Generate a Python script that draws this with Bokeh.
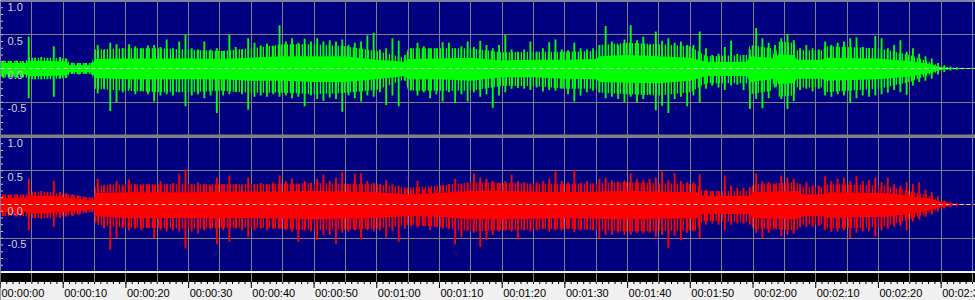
import numpy as np
from bokeh.plotting import figure
from bokeh.models import Range1d
from bokeh.core.properties import value
from bokeh.embed import file_html
from bokeh.resources import INLINE

# ---------------- data ----------------
# per-second peak amplitudes (bin i covers second i .. i+1)
green_hi = [
    0.12, 0.11, 0.12, 0.11, 0.47, 0.16, 0.17, 0.15, 0.33, 0.17,
    0.15, 0.09, 0.08, 0.08, 0.09, 0.35, 0.27, 0.38, 0.36, 0.30,
    0.36, 0.33, 0.30, 0.34, 0.35, 0.32, 0.43, 0.30, 0.40, 0.50,
    0.30, 0.28, 0.40, 0.28, 0.30, 0.26, 0.50, 0.32, 0.28, 0.45,
    0.38, 0.34, 0.37, 0.33, 0.64, 0.40, 0.45, 0.38, 0.44, 0.40,
    0.45, 0.40, 0.42, 0.40, 0.43, 0.35, 0.38, 0.40, 0.49, 0.53,
    0.28, 0.30, 0.45, 0.41, 0.20, 0.30, 0.38, 0.33, 0.30, 0.30,
    0.39, 0.38, 0.30, 0.33, 0.40, 0.32, 0.41, 0.35, 0.30, 0.35,
    0.50, 0.28, 0.25, 0.28, 0.40, 0.25, 0.30, 0.39, 0.43, 0.28,
    0.27, 0.38, 0.30, 0.28, 0.30, 0.35, 0.63, 0.40, 0.35, 0.43,
    0.64, 0.42, 0.47, 0.35, 0.55, 0.41, 0.45, 0.38, 0.40, 0.35,
    0.35, 0.55, 0.30, 0.20, 0.22, 0.32, 0.41, 0.22, 0.20, 0.28,
    0.60, 0.45, 0.38, 0.35, 0.45, 0.51, 0.42, 0.30, 0.35, 0.30,
    0.28, 0.40, 0.35, 0.38, 0.40, 0.45, 0.46, 0.32, 0.30, 0.48,
    0.45, 0.30, 0.35, 0.42, 0.25, 0.30, 0.22, 0.18, 0.15, 0.08,
    0.05, 0.03, 0.02, 0.01, 0.0, 0.0,
]
green_lo = [
    -0.14, -0.13, -0.14, -0.13, -0.44, -0.16, -0.16, -0.15, -0.42, -0.15,
    -0.14, -0.08, -0.09, -0.08, -0.09, -0.37, -0.30, -0.63, -0.50, -0.35,
    -0.30, -0.38, -0.33, -0.38, -0.49, -0.40, -0.38, -0.40, -0.35, -0.56,
    -0.40, -0.38, -0.44, -0.40, -0.66, -0.40, -0.38, -0.35, -0.38, -0.61,
    -0.42, -0.40, -0.42, -0.38, -0.42, -0.40, -0.44, -0.42, -0.56, -0.40,
    -0.45, -0.48, -0.43, -0.45, -0.64, -0.40, -0.44, -0.49, -0.40, -0.42,
    -0.35, -0.54, -0.40, -0.56, -0.18, -0.32, -0.40, -0.35, -0.44, -0.38,
    -0.49, -0.35, -0.51, -0.38, -0.49, -0.35, -0.42, -0.38, -0.58, -0.40,
    -0.35, -0.30, -0.29, -0.30, -0.32, -0.28, -0.34, -0.32, -0.33, -0.30,
    -0.38, -0.49, -0.40, -0.35, -0.33, -0.35, -0.44, -0.42, -0.45, -0.50,
    -0.42, -0.50, -0.45, -0.38, -0.62, -0.55, -0.66, -0.45, -0.42, -0.56,
    -0.40, -0.50, -0.30, -0.25, -0.28, -0.32, -0.25, -0.24, -0.32, -0.60,
    -0.45, -0.59, -0.44, -0.28, -0.45, -0.60, -0.48, -0.32, -0.30, -0.34,
    -0.30, -0.40, -0.42, -0.38, -0.40, -0.51, -0.44, -0.40, -0.42, -0.40,
    -0.38, -0.36, -0.32, -0.35, -0.39, -0.25, -0.20, -0.18, -0.15, -0.09,
    -0.05, -0.03, -0.02, -0.01, 0.0, 0.0,
]
red_hi = [
    0.15, 0.14, 0.15, 0.14, 0.38, 0.19, 0.20, 0.18, 0.35, 0.19,
    0.17, 0.15, 0.13, 0.11, 0.10, 0.38, 0.28, 0.30, 0.35, 0.28,
    0.37, 0.30, 0.28, 0.30, 0.28, 0.35, 0.30, 0.32, 0.45, 0.52,
    0.30, 0.33, 0.30, 0.28, 0.40, 0.30, 0.43, 0.30, 0.28, 0.40,
    0.30, 0.32, 0.30, 0.33, 0.43, 0.35, 0.38, 0.30, 0.35, 0.32,
    0.38, 0.44, 0.35, 0.40, 0.48, 0.30, 0.45, 0.46, 0.35, 0.32,
    0.30, 0.36, 0.30, 0.28, 0.25, 0.22, 0.35, 0.22, 0.24, 0.22,
    0.28, 0.30, 0.38, 0.30, 0.32, 0.46, 0.40, 0.38, 0.35, 0.32,
    0.35, 0.44, 0.35, 0.33, 0.30, 0.33, 0.35, 0.38, 0.49, 0.35,
    0.33, 0.52, 0.32, 0.35, 0.30, 0.38, 0.40, 0.36, 0.34, 0.36,
    0.46, 0.38, 0.36, 0.38, 0.40, 0.49, 0.36, 0.46, 0.35, 0.33,
    0.33, 0.45, 0.22, 0.20, 0.20, 0.43, 0.28, 0.25, 0.25, 0.26,
    0.46, 0.35, 0.33, 0.30, 0.43, 0.40, 0.38, 0.30, 0.33, 0.28,
    0.28, 0.42, 0.35, 0.38, 0.40, 0.35, 0.42, 0.35, 0.36, 0.40,
    0.33, 0.40, 0.30, 0.28, 0.33, 0.30, 0.33, 0.22, 0.18, 0.12,
    0.06, 0.03, 0.02, 0.01, 0.0, 0.0,
]
red_lo = [
    -0.17, -0.16, -0.18, -0.16, -0.38, -0.20, -0.21, -0.20, -0.33, -0.20,
    -0.18, -0.17, -0.15, -0.12, -0.11, -0.26, -0.35, -0.67, -0.50, -0.35,
    -0.38, -0.36, -0.38, -0.35, -0.50, -0.38, -0.40, -0.38, -0.40, -0.65,
    -0.40, -0.43, -0.38, -0.36, -0.59, -0.38, -0.55, -0.36, -0.38, -0.48,
    -0.38, -0.36, -0.38, -0.36, -0.36, -0.38, -0.40, -0.55, -0.38, -0.40,
    -0.53, -0.45, -0.45, -0.58, -0.42, -0.40, -0.38, -0.52, -0.38, -0.40,
    -0.38, -0.49, -0.40, -0.55, -0.36, -0.32, -0.34, -0.32, -0.38, -0.33,
    -0.36, -0.36, -0.59, -0.48, -0.38, -0.42, -0.63, -0.53, -0.45, -0.40,
    -0.38, -0.40, -0.52, -0.38, -0.40, -0.38, -0.36, -0.40, -0.38, -0.38,
    -0.36, -0.41, -0.38, -0.36, -0.38, -0.50, -0.45, -0.45, -0.42, -0.45,
    -0.45, -0.42, -0.43, -0.42, -0.48, -0.45, -0.64, -0.46, -0.53, -0.42,
    -0.40, -0.50, -0.30, -0.28, -0.30, -0.38, -0.30, -0.28, -0.28, -0.30,
    -0.42, -0.50, -0.42, -0.35, -0.47, -0.45, -0.43, -0.33, -0.33, -0.33,
    -0.32, -0.38, -0.41, -0.40, -0.38, -0.50, -0.42, -0.40, -0.40, -0.47,
    -0.38, -0.36, -0.33, -0.32, -0.38, -0.25, -0.22, -0.18, -0.15, -0.10,
    -0.06, -0.04, -0.02, -0.01, 0.0, 0.0,
]

# solid core and dense-spike zone of each channel, as breakpoints (seconds)
green_body_t = [0, 4, 4.5, 8, 10.5, 11, 14.6, 15, 20, 25, 30, 35, 40, 45, 50, 55, 60,
                64.5, 65, 70, 75, 80, 85, 90, 95, 95.5, 100, 105, 110, 112.5, 119,
                119.5, 123, 123.5, 124, 126.5, 127, 131, 131.5, 140, 145, 148, 150, 152, 155.5]
green_body_hi = [0.08, 0.08, 0.11, 0.11, 0.10, 0.05, 0.05, 0.14, 0.15, 0.15, 0.15, 0.14, 0.16, 0.18, 0.18, 0.18, 0.13,
                 0.10, 0.14, 0.15, 0.16, 0.12, 0.13, 0.13, 0.14, 0.18, 0.20, 0.18, 0.16, 0.10, 0.10,
                 0.18, 0.16, 0.10, 0.21, 0.20, 0.13, 0.13, 0.16, 0.15, 0.11, 0.07, 0.02, 0.005, 0.0]
green_body_lo = [-0.09, -0.09, -0.11, -0.11, -0.10, -0.05, -0.05, -0.14, -0.16, -0.16, -0.16, -0.16, -0.18, -0.18, -0.20, -0.20, -0.16,
                 -0.11, -0.16, -0.16, -0.18, -0.13, -0.13, -0.15, -0.16, -0.20, -0.21, -0.22, -0.18, -0.11, -0.11,
                 -0.20, -0.16, -0.10, -0.23, -0.22, -0.15, -0.15, -0.18, -0.16, -0.12, -0.07, -0.02, -0.005, 0.0]
green_zone_hi = [0.11, 0.11, 0.16, 0.16, 0.15, 0.08, 0.08, 0.28, 0.30, 0.30, 0.28, 0.26, 0.30, 0.36, 0.36, 0.33, 0.26,
                 0.16, 0.30, 0.30, 0.30, 0.24, 0.25, 0.25, 0.26, 0.35, 0.38, 0.36, 0.33, 0.18, 0.20,
                 0.35, 0.30, 0.15, 0.40, 0.38, 0.27, 0.27, 0.33, 0.30, 0.20, 0.10, 0.03, 0.01, 0.0]
green_zone_lo = [-0.13, -0.13, -0.16, -0.16, -0.14, -0.08, -0.08, -0.30, -0.33, -0.35, -0.35, -0.33, -0.36, -0.36, -0.38, -0.36, -0.32,
                 -0.16, -0.33, -0.33, -0.33, -0.26, -0.26, -0.30, -0.30, -0.36, -0.38, -0.40, -0.35, -0.22, -0.22,
                 -0.38, -0.33, -0.15, -0.42, -0.40, -0.28, -0.28, -0.35, -0.30, -0.20, -0.10, -0.03, -0.01, 0.0]

red_body_t = [0, 4, 4.5, 8, 9, 14.8, 15.2, 20, 30, 40, 50, 60, 65, 70, 75, 80, 90, 100, 111, 112,
              119.5, 120, 127, 128, 131, 132, 141, 145, 148, 150, 152, 155.5]
red_body_hi = [0.10, 0.10, 0.13, 0.13, 0.12, 0.06, 0.17, 0.18, 0.18, 0.19, 0.20, 0.18, 0.15, 0.17, 0.20, 0.20, 0.18, 0.20, 0.18, 0.13,
               0.13, 0.18, 0.20, 0.15, 0.15, 0.18, 0.17, 0.13, 0.09, 0.04, 0.01, 0.0]
red_body_lo = [-0.11, -0.11, -0.13, -0.13, -0.12, -0.07, -0.17, -0.20, -0.20, -0.20, -0.22, -0.20, -0.17, -0.18, -0.22, -0.22, -0.20, -0.22, -0.20, -0.14,
               -0.14, -0.20, -0.22, -0.17, -0.17, -0.20, -0.18, -0.14, -0.09, -0.04, -0.01, 0.0]
red_zone_hi = [0.15, 0.15, 0.19, 0.19, 0.17, 0.10, 0.28, 0.30, 0.30, 0.30, 0.32, 0.30, 0.25, 0.28, 0.33, 0.32, 0.30, 0.33, 0.30, 0.20,
               0.20, 0.30, 0.33, 0.26, 0.26, 0.30, 0.28, 0.20, 0.13, 0.05, 0.01, 0.0]
red_zone_lo = [-0.17, -0.17, -0.20, -0.20, -0.18, -0.11, -0.30, -0.34, -0.36, -0.34, -0.38, -0.36, -0.30, -0.33, -0.40, -0.38, -0.36, -0.40, -0.38, -0.24,
               -0.26, -0.36, -0.38, -0.30, -0.30, -0.36, -0.33, -0.22, -0.13, -0.05, -0.01, 0.0]

# axis ticks / labels
time_ticks = [0, 10, 20, 30, 40, 50, 60, 70, 80, 90, 100, 110, 120, 130, 140, 150]
time_labels = ["00:00:00", "00:00:10", "00:00:20", "00:00:30", "00:00:40", "00:00:50",
               "00:01:00", "00:01:10", "00:01:20", "00:01:30", "00:01:40", "00:01:50",
               "00:02:00", "00:02:10", "00:02:20", "00:02:30"]
amp_ticks = [1.0, 0.5, 0.0, -0.5]
amp_labels = ["1.0", "0.5", "0.0", "-0.5"]

# ---------------- layout / style ----------------
W, H = 975, 300
PX_PER_S = 6.271
PX_PER_UNIT = 67.5
X_END = W / PX_PER_S
NAVY = "#000080"
GRID = "#808080"
FONT = value("Liberation Sans")

ch1_end = 1.0 + 0.5 / PX_PER_UNIT
ch2_end = 1.0 + 136.5 / PX_PER_UNIT

p = figure(width=W, height=H, output_backend="svg", toolbar_location=None,
           x_range=Range1d(0, X_END), y_range=Range1d(H, 0),
           x_axis_location=None, y_axis_location=None, min_border=0,
           background_fill_color=NAVY, border_fill_color=NAVY,
           outline_line_color=None)
p.grid.visible = False
p.extra_y_ranges = {
    "ch1": Range1d(ch1_end - H / PX_PER_UNIT, ch1_end),
    "ch2": Range1d(ch2_end - H / PX_PER_UNIT, ch2_end),
}

# black ruler band (gridlines pass through it)
p.quad(left=0, right=X_END, top=272.5, bottom=281.5, color="#000000", line_color=None)

# vertical grid every 5 s
grid_t = np.arange(0, 160, 5)
p.vspan(x=grid_t, line_color=GRID, line_width=1)

sec = np.arange(len(green_hi)) + 0.5
channels = [("ch1", green_hi, green_lo, green_body_t, green_body_hi, green_body_lo,
             green_zone_hi, green_zone_lo, "#00ff00"),
            ("ch2", red_hi, red_lo, red_body_t, red_body_hi, red_body_lo,
             red_zone_hi, red_zone_lo, "#ff0000")]
amp_minor = np.round(np.arange(-0.9, 1.0, 0.1), 2)
for name, hi, lo, bt, bhi, blo, zhi, zlo, col in channels:
    p.hspan(y=[1.0, 0.5, -0.5, -1.0], line_color=GRID, line_width=1, y_range_name=name)
    p.hspan(y=[0.0], line_color=col, line_width=1, y_range_name=name)
    # dense spike zone: vertical hatching in the channel colour
    p.varea(x=bt, y1=zlo, y2=zhi, fill_alpha=0, hatch_pattern="vertical_line",
            hatch_color=col, hatch_scale=3, hatch_weight=1.6, y_range_name=name)
    p.varea(x=bt, y1=blo, y2=bhi, fill_color=col, y_range_name=name)
    p.vbar(x=sec, width=0.3, top=hi, bottom=lo, fill_color=col, line_color=None, y_range_name=name)
    p.hspan(y=[0.0], line_color="#d0d0d0", line_width=1, line_dash="4 3", y_range_name=name)
    # left minor ticks and amplitude labels
    p.segment(x0=0, x1=0.4, y0=amp_minor, y1=amp_minor, line_color="#c8c8c8", y_range_name=name)
    p.text(x=0, y=amp_ticks, text=amp_labels, x_offset=7, y_offset=2,
           text_align="left", text_baseline="top", text_color="#d0d0d0",
           text_font=FONT, text_font_size="11px", y_range_name=name)

# separator between channels, white rule line and the time ruler
p.quad(left=0, right=X_END, top=134.0, bottom=137.5, color="#808080", line_color=None)
p.quad(left=0, right=X_END, top=270.5, bottom=272.5, color="#f4f4f4", line_color=None)
p.quad(left=0, right=X_END, top=281.5, bottom=H, color="#f0f0f0", line_color=None)

minor_t = np.arange(0, 156, 1)
p.segment(x0=minor_t, x1=minor_t, y0=281.5, y1=283.5, line_color="#000000", line_width=1)
p.segment(x0=time_ticks, x1=time_ticks, y0=281.5, y1=287.5, line_color="#000000", line_width=1)
p.text(x=time_ticks, y=286.5, text=time_labels, x_offset=1,
       text_align="left", text_baseline="top", text_color="#000000",
       text_font=FONT, text_font_size="11px")

open("out.html", "w").write(file_html(p, INLINE))
